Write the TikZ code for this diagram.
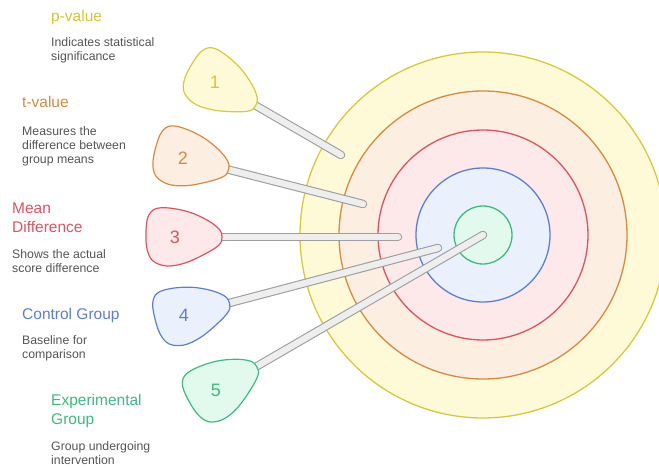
\documentclass[tikz,border=0pt]{standalone}
\usepackage{fontspec}
\setmainfont{Liberation Sans}
\definecolor{yelS}{HTML}{D6CA3A}
\definecolor{yelF}{HTML}{FEF9D6}
\definecolor{yelT}{HTML}{D4C634}
\definecolor{oraS}{HTML}{D98A3E}
\definecolor{oraF}{HTML}{FDEEE2}
\definecolor{redS}{HTML}{E0535E}
\definecolor{redF}{HTML}{FDE8EA}
\definecolor{bluS}{HTML}{5B7FD8}
\definecolor{bluF}{HTML}{EAF1FD}
\definecolor{grnS}{HTML}{3DBB7F}
\definecolor{grnF}{HTML}{E2FAEE}
\definecolor{stickgray}{HTML}{9E9E9E}
\definecolor{stickfill}{HTML}{EEEEEE}
\definecolor{descgray}{HTML}{555555}
\tikzset{
  pinblob/.pic={\path[pic actions] plot[smooth cycle, tension=0.6] coordinates
    {(47,0) (44,8) (32,17) (14,25) (-6,29) (-20,28) (-27,20) (-29,5) (-28,-12) (-22,-24) (-8,-29) (10,-26) (30,-17) (44,-8)};},
}
\begin{document}
\begin{tikzpicture}[x=1pt,y=1pt,
  ring/.style={circle, draw, line width=1.3pt, inner sep=0pt, outer sep=0pt},
  stickout/.style={line width=8.5pt, draw=stickgray, line cap=round},
  stickin/.style={line width=6.3pt, draw=stickfill, line cap=round},
  pinst/.style={line width=1.2pt},
  num/.style={font=\fontsize{18}{18}\selectfont, inner sep=0pt},
  ttl/.style={font=\fontsize{15.5}{19}\selectfont, anchor=base west, inner sep=0pt, align=left},
  dsc/.style={font=\fontsize{12.3}{14}\selectfont, text=descgray, anchor=base west, inner sep=0pt, align=left},
]
\useasboundingbox (0,0) rectangle (659,468);
\clip (0,0) rectangle (659,468);
% target rings
\node[ring, draw=yelS, fill=yelF, minimum size=366pt] (r1) at (483,233) {};
\node[ring, draw=oraS, fill=oraF, minimum size=288pt] (r2) at (483,233) {};
\node[ring, draw=redS, fill=redF, minimum size=210pt] (r3) at (483,233) {};
\node[ring, draw=bluS, fill=bluF, minimum size=134pt] (r4) at (483,233) {};
\node[ring, draw=grnS, fill=grnF, minimum size=58pt] (r5) at (483,233) {};
% pin centres and stick ends
\coordinate (c1) at (215,386);
\coordinate (c2) at (183,310);
\coordinate (c3) at (175,231);
\coordinate (c4) at (184,153);
\coordinate (c5) at (216,78);
\coordinate (t1) at (341,313);
\coordinate (t2) at (363,264);
\coordinate (t3) at (398,231);
\coordinate (t4) at (438,220);
\coordinate (t5) at (r5.center);
% sticks
\foreach \i in {5,4,3,2,1}{
  \draw[stickout] (c\i) -- (t\i);
  \draw[stickin] (c\i) -- (t\i);
}
% pins
\pic[pinst, draw=yelS, fill=yelF, rotate=-30] at (c1) {pinblob};
\pic[pinst, draw=oraS, fill=oraF, rotate=-14] at (c2) {pinblob};
\pic[pinst, draw=redS, fill=redF, rotate=0] at (c3) {pinblob};
\pic[pinst, draw=bluS, fill=bluF, rotate=15] at (c4) {pinblob};
\pic[pinst, draw=grnS, fill=grnF, rotate=30] at (c5) {pinblob};
\node[num, text=yelT] (n1) at (c1) {1};
\node[num, text=oraS] (n2) at (c2) {2};
\node[num, text=redS] (n3) at (c3) {3};
\node[num, text=bluS] (n4) at (c4) {4};
\node[num, text=grnS] (n5) at (c5) {5};
% labels (anchored on the baseline of their last line)
\node[ttl, text=yelT] (h1) at (51,446) {p-value};
\node[dsc] (d1) at (51,407) {Indicates statistical\\significance};
\node[ttl, text=oraS] (h2) at (22,360) {t-value};
\node[dsc] (d2) at (22,304) {Measures the\\difference between\\group means};
\node[ttl, text=redS] (h3) at (12,235) {Mean\\Difference};
\node[dsc] (d3) at (12,195) {Shows the actual\\score difference};
\node[ttl, text=bluS] (h4) at (22,148) {Control Group};
\node[dsc] (d4) at (22,109) {Baseline for\\comparison};
\node[ttl, text=grnS] (h5) at (51,43) {Experimental\\Group};
\node[dsc] (d5) at (51,3) {Group undergoing\\intervention};
\end{tikzpicture}
\end{document}
